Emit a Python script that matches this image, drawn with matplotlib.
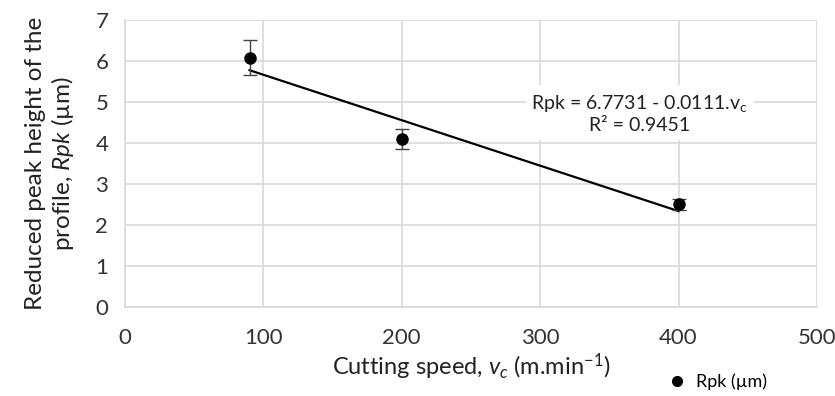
import matplotlib
matplotlib.use('Agg')
from matplotlib import pyplot as plt
from matplotlib.lines import Line2D
import numpy as np

plt.rcParams['font.family'] = ['Lato', 'DejaVu Sans']
plt.rcParams['mathtext.fontset'] = 'custom'
plt.rcParams['mathtext.it'] = 'Lato:italic'
plt.rcParams['mathtext.rm'] = 'Lato'

# measured points
speed = [90, 200, 400]
rpk = [6.08, 4.09, 2.50]
rpk_err = [0.42, 0.24, 0.14]

# linear trend from the chart
intercept = 6.7731
slope = -0.0111
r2 = 0.9451

fig = plt.figure(figsize=(8.35, 3.96), dpi=100)
ax = fig.add_axes([0.1497, 0.2255, 0.8287, 0.724])

grid_col = '#d9d9d9'
ax.set_xlim(0, 500)
ax.set_ylim(0, 7)
ax.set_xticks(np.arange(0, 501, 100))
ax.set_yticks(np.arange(0, 8, 1))
ax.grid(True, color=grid_col, linewidth=1.2)
ax.set_axisbelow(True)
for s in ax.spines.values():
    s.set_visible(False)
for side in ['left', 'bottom']:
    ax.spines[side].set_visible(True)
    ax.spines[side].set_color(grid_col)
    ax.spines[side].set_linewidth(1.2)
ax.tick_params(length=0, labelsize=16, colors='#333333')
ax.tick_params(axis='x', pad=15)
ax.tick_params(axis='y', pad=12)

# trend line over the data range
xt = np.array([min(speed), max(speed)])
ax.plot(xt, intercept + slope * xt, color='black', linewidth=1.6, zorder=2)

ax.errorbar(speed, rpk, yerr=rpk_err, fmt='o', color='black', markersize=8,
            ecolor='#444444', elinewidth=1, capsize=5, capthick=1, zorder=3)

ax.text(372, 4.72, f'Rpk = {intercept} - {-slope}.v$_\\mathrm{{c}}$\nR² = {r2}',
        ha='center', va='center', fontsize=14, color='#222222',
        linespacing=1.25,
        bbox=dict(facecolor='white', edgecolor='none', pad=4), zorder=4)

ax.set_xlabel('Cutting speed, $\\mathit{v_c}$ (m.min$^{\\mathrm{-1}}$)', fontsize=17,
              color='#222222', labelpad=3)
ax.set_ylabel('Reduced peak height of the\nprofile, $\\mathit{Rpk}$ (µm)',
              fontsize=17.5, color='#222222', labelpad=14, linespacing=1.15)

handle = Line2D([], [], marker='o', color='black', linestyle='none', markersize=7)
fig.legend([handle], ['Rpk (µm)'], loc='center right', bbox_to_anchor=(0.918, 0.035),
           frameon=False, fontsize=13, handletextpad=0.0, borderpad=0,
           borderaxespad=0)

fig.savefig('out.png', dpi=100)
